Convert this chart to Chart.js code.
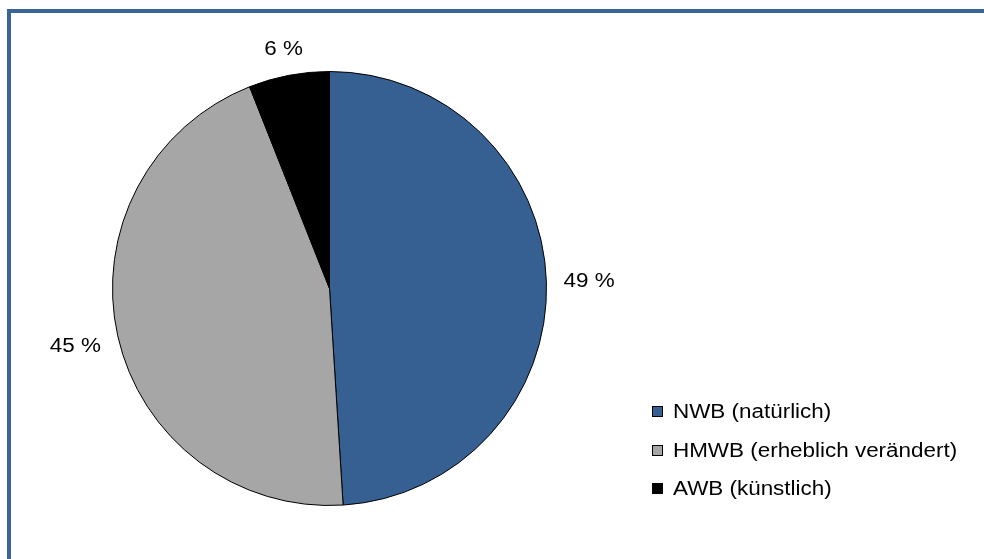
<!DOCTYPE html>
<html>
<head>
<meta charset="utf-8">
<script src="https://cdn.jsdelivr.net/npm/chart.js@4"></script>
<style>
  html, body { margin: 0; padding: 0; background: #fff; overflow: hidden; }
  #wrap { position: relative; width: 984px; height: 559px; }
  #frame { position: absolute; left: 7px; top: 9px; right: 0; bottom: 0;
           border-left: 4px solid #3a6496; border-top: 4px solid #3a6496; pointer-events: none; }
  canvas { position: absolute; left: 0; top: 0; }
</style>
</head>
<body>
<div id="wrap">
  <canvas id="pie" width="984" height="559"></canvas>
  <div id="frame"></div>
</div>
<script>
const categories = ['NWB (natürlich)', 'HMWB (erheblich verändert)', 'AWB (künstlich)'];
const shares = [49, 45, 6];
const sliceColors = ['#376092', '#a6a6a6', '#000000'];

const FONT = '"Liberation Sans", Arial, sans-serif';
const FONT_SIZE = 19.5;
const STRETCH = 1.15; // the original text runs a bit wider than Arial

function wideText(ctx, text, x, y) {
  ctx.save();
  ctx.translate(x, y);
  ctx.scale(STRETCH, 1);
  ctx.fillText(text, 0, 0);
  ctx.restore();
}

// percentage labels just outside each slice
const outsideLabels = {
  id: 'outsideLabels',
  afterDatasetsDraw(chart) {
    const ctx = chart.ctx;
    const meta = chart.getDatasetMeta(0);
    ctx.save();
    ctx.font = FONT_SIZE + 'px ' + FONT;
    ctx.fillStyle = '#000';
    ctx.textAlign = 'center';
    ctx.textBaseline = 'middle';
    meta.data.forEach((arc, i) => {
      const mid = (arc.startAngle + arc.endAngle) / 2;
      const dx = Math.cos(mid), dy = Math.sin(mid);
      const text = shares[i] + ' %';
      const hw = ctx.measureText(text).width * STRETCH / 2;
      const hh = 7;
      const r = arc.outerRadius + 17 + Math.abs(dx) * hw + Math.abs(dy) * hh;
      wideText(ctx, text, arc.x + dx * r, arc.y + dy * r + 1);
    });
    ctx.restore();
  }
};

// legend at lower right
const sideLegend = {
  id: 'sideLegend',
  afterDraw(chart) {
    const ctx = chart.ctx;
    ctx.save();
    ctx.font = FONT_SIZE + 'px ' + FONT;
    ctx.textBaseline = 'middle';
    categories.forEach((name, i) => {
      const y = Math.round(412 + i * 38.5);
      ctx.fillStyle = sliceColors[i];
      ctx.fillRect(652.5, y - 5.5, 10, 10);
      ctx.strokeStyle = '#000';
      ctx.lineWidth = 1;
      ctx.strokeRect(652.5, y - 5.5, 10, 10);
      ctx.fillStyle = '#000';
      wideText(ctx, name, 673, y + 1);
    });
    ctx.restore();
  }
};

new Chart(document.getElementById('pie').getContext('2d'), {
  type: 'pie',
  data: {
    labels: categories,
    datasets: [{
      data: shares,
      backgroundColor: sliceColors,
      borderColor: '#000',
      borderWidth: 1
    }]
  },
  options: {
    responsive: false,
    animation: false,
    layout: { padding: { left: 112, top: 71, right: 437, bottom: 53 } },
    plugins: {
      legend: { display: false },
      tooltip: { enabled: false }
    }
  },
  plugins: [outsideLabels, sideLegend]
});
</script>
</body>
</html>
